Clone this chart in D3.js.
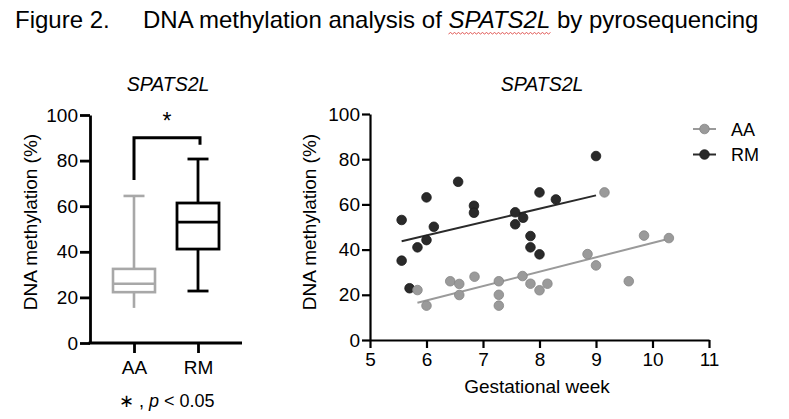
<!DOCTYPE html>
<html><head><meta charset="utf-8">
<script src="https://cdn.jsdelivr.net/npm/d3@7"></script>
<style>
html,body{margin:0;padding:0;background:#fff;}
svg{display:block;font-family:"Liberation Sans",Arial,sans-serif;}
</style></head>
<body>
<svg id="c" width="789" height="419"></svg>
<script>
// ---- data ----
const boxGroups = ["AA", "RM"];
const boxMin    = [15.4, 22.8];
const boxQ1     = [22.3, 41.2];
const boxMedian = [26.0, 53.0];
const boxQ3     = [32.5, 61.4];
const boxMax    = [64.5, 80.7];
const yTicks = [0, 20, 40, 60, 80, 100];
const xTicks = [5, 6, 7, 8, 9, 10, 11];

const aaWeek = [5.84, 6.0, 6.42, 6.58, 6.58, 6.85, 7.28, 7.28, 7.28, 7.70, 7.84, 8.0, 8.14, 8.85, 9.0, 9.15, 9.58, 9.85, 10.29];
const aaMeth = [22.1, 15.2, 26.0, 24.8, 19.9, 28.0, 26.0, 20.0, 15.2, 28.3, 24.9, 22.0, 24.9, 38.0, 33.0, 65.3, 26.0, 46.2, 45.1];
const rmWeek = [5.56, 6.0, 6.56, 6.84, 6.84, 6.13, 6.0, 5.84, 5.56, 5.70, 9.0, 8.0, 8.29, 7.57, 7.71, 7.57, 7.84, 7.84, 8.0];
const rmMeth = [53.1, 63.1, 70.0, 59.4, 56.3, 50.1, 44.2, 41.0, 35.1, 22.9, 81.4, 65.3, 62.2, 56.5, 54.1, 51.2, 46.0, 41.0, 37.9];
const fitAAWeek = [5.84, 10.29];
const fitAAMeth = [16.5, 44.8];
const fitRMWeek = [5.56, 9.0];
const fitRMMeth = [43.7, 64.0];

const seriesNames = ["AA", "RM"];
const colGrayBox = "#a8a8a8";
const colGray = "#9a9a9a";
const colGrayStroke = "#858585";
const colDark = "#2a2a2a";

const svg = d3.select("#c");

// ---- title ----
const title = svg.append("text").attr("x", 15).attr("y", 28)
  .attr("font-size", 24).attr("fill", "#000");
title.append("tspan").text("Figure 2.");
title.append("tspan").attr("x", 143).text("DNA methylation analysis of ");
const italicSpan = title.append("tspan").attr("font-style", "italic").text("SPATS2L");
title.append("tspan").text(" by pyrosequencing");

// wavy red underline under SPATS2L
(function(){
  const node = italicSpan.node();
  const start = node.getStartPositionOfChar(0).x;
  const end = node.getEndPositionOfChar(6).x;
  let d = `M${start},34`;
  for (let x = start, i = 0; x < end; x += 2, i++) {
    d += ` L${x + 2},${i % 2 === 0 ? 32.5 : 34}`;
  }
  svg.append("path").attr("d", d).attr("fill", "none").attr("stroke", "#d9302c").attr("stroke-width", 0.8);
})();

// ---- box plot ----
const yB = d3.scaleLinear().domain([0, 100]).range([343, 115]);
const xB = d3.scalePoint().domain(boxGroups).range([134, 198]);

svg.append("text").attr("x", 168).attr("y", 91).attr("text-anchor", "middle")
  .attr("font-size", 19.5).attr("font-style", "italic").text("SPATS2L");

const gyB = svg.append("g").attr("transform", "translate(90,0)")
  .call(d3.axisLeft(yB).tickValues(yTicks).tickSize(10).tickSizeOuter(0).tickPadding(2));
gyB.select(".domain").attr("stroke-width", 2.8);
gyB.selectAll(".tick line").attr("stroke-width", 2.8);
gyB.selectAll(".tick text").attr("font-size", 19).attr("font-family", "Liberation Sans, Arial").attr("fill", "#000");

const gxB = svg.append("g").attr("transform", "translate(0,343)")
  .call(d3.axisBottom(xB).tickSize(10).tickSizeOuter(0).tickPadding(8));
gxB.select(".domain").remove();
gxB.selectAll(".tick line").attr("stroke-width", 2.8);
gxB.selectAll(".tick text").attr("font-size", 19).attr("font-family", "Liberation Sans, Arial").attr("fill", "#000");
svg.append("line").attr("x1", 88.6).attr("x2", 242).attr("y1", 343).attr("y2", 343)
  .attr("stroke", "#000").attr("stroke-width", 2.8);

svg.append("text").attr("transform", "translate(37,222) rotate(-90)")
  .attr("text-anchor", "middle").attr("font-size", 19).text("DNA methylation (%)");

const boxHalf = 21, capHalf = 10.5;
boxGroups.forEach((g, i) => {
  const cx = xB(g);
  const col = i === 0 ? colGrayBox : "#000";
  const sw = i === 0 ? 2.6 : 2.8;
  const gg = svg.append("g").attr("stroke", col).attr("stroke-width", sw).attr("fill", "none");
  gg.append("line").attr("x1", cx).attr("x2", cx).attr("y1", yB(boxMax[i])).attr("y2", yB(boxQ3[i]));
  gg.append("line").attr("x1", cx).attr("x2", cx).attr("y1", yB(boxQ1[i])).attr("y2", yB(boxMin[i]));
  gg.append("line").attr("x1", cx - capHalf).attr("x2", cx + capHalf).attr("y1", yB(boxMax[i])).attr("y2", yB(boxMax[i]));
  if (i === 1) {
    gg.append("line").attr("x1", cx - capHalf).attr("x2", cx + capHalf).attr("y1", yB(boxMin[i])).attr("y2", yB(boxMin[i]));
  }
  gg.append("rect").attr("x", cx - boxHalf).attr("width", boxHalf * 2)
    .attr("y", yB(boxQ3[i])).attr("height", yB(boxQ1[i]) - yB(boxQ3[i]));
  gg.append("line").attr("x1", cx - boxHalf).attr("x2", cx + boxHalf).attr("y1", yB(boxMedian[i])).attr("y2", yB(boxMedian[i]));
});

// significance bracket
const bracketLow = [71.5, 87], bracketTop = 90;
svg.append("path")
  .attr("d", `M${xB("AA")},${yB(bracketLow[0])} V${yB(bracketTop)} H${xB("RM") + 2} V${yB(bracketLow[1])}`)
  .attr("fill", "none").attr("stroke", "#000").attr("stroke-width", 3);
svg.append("text").attr("x", 167).attr("y", 129).attr("text-anchor", "middle")
  .attr("font-size", 23).text("*");

const note = svg.append("text").attr("x", 119).attr("y", 407).attr("font-size", 18);
note.append("tspan").text("\u2217 , ");
note.append("tspan").attr("font-style", "italic").text("p");
note.append("tspan").text(" < 0.05");

// ---- scatter ----
const xS = d3.scaleLinear().domain([5, 11]).range([370, 709]);
const yS = d3.scaleLinear().domain([0, 100]).range([340, 114]);

svg.append("text").attr("x", 542).attr("y", 91).attr("text-anchor", "middle")
  .attr("font-size", 19.5).attr("font-style", "italic").text("SPATS2L");

const gyS = svg.append("g").attr("transform", "translate(370,0)")
  .call(d3.axisLeft(yS).tickValues(yTicks).tickSize(8).tickSizeOuter(0).tickPadding(2));
gyS.select(".domain").attr("stroke-width", 2.2);
gyS.selectAll(".tick line").attr("stroke-width", 2.2);
gyS.selectAll(".tick text").attr("font-size", 19).attr("font-family", "Liberation Sans, Arial").attr("fill", "#000");

const gxS = svg.append("g").attr("transform", "translate(0,340)")
  .call(d3.axisBottom(xS).tickValues(xTicks).tickFormat(d3.format("d")).tickSize(8).tickSizeOuter(0).tickPadding(5));
gxS.select(".domain").attr("stroke-width", 2.2);
gxS.selectAll(".tick line").attr("stroke-width", 2.2);
gxS.selectAll(".tick text").attr("font-size", 19).attr("font-family", "Liberation Sans, Arial").attr("fill", "#000");

svg.append("text").attr("transform", "translate(316,222) rotate(-90)")
  .attr("text-anchor", "middle").attr("font-size", 19).text("DNA methylation (%)");
svg.append("text").attr("x", 537).attr("y", 393).attr("text-anchor", "middle")
  .attr("font-size", 19).text("Gestational week");

// fit lines
const lineGen = d3.line().x(d => xS(d[0])).y(d => yS(d[1]));
svg.append("path").datum(d3.zip(fitRMWeek, fitRMMeth)).attr("d", lineGen)
  .attr("stroke", colDark).attr("stroke-width", 2).attr("fill", "none");
svg.append("path").datum(d3.zip(fitAAWeek, fitAAMeth)).attr("d", lineGen)
  .attr("stroke", colGray).attr("stroke-width", 2).attr("fill", "none");

const r = 4.8;
svg.append("g").selectAll("circle").data(d3.zip(rmWeek, rmMeth)).join("circle")
  .attr("cx", d => xS(d[0])).attr("cy", d => yS(d[1])).attr("r", r)
  .attr("fill", colDark).attr("stroke", "#1a1a1a").attr("stroke-width", 0.8);
svg.append("g").selectAll("circle").data(d3.zip(aaWeek, aaMeth)).join("circle")
  .attr("cx", d => xS(d[0])).attr("cy", d => yS(d[1])).attr("r", r)
  .attr("fill", colGray).attr("stroke", colGrayStroke).attr("stroke-width", 0.8);

// legend
const legY = [129, 154.5];
seriesNames.forEach((s, i) => {
  const fill = i === 0 ? colGray : colDark;
  const stroke = i === 0 ? colGrayStroke : "#1a1a1a";
  svg.append("line").attr("x1", 693).attr("x2", 716).attr("y1", legY[i]).attr("y2", legY[i])
    .attr("stroke", i === 0 ? colGray : colDark).attr("stroke-width", 2);
  svg.append("circle").attr("cx", 704.5).attr("cy", legY[i]).attr("r", r)
    .attr("fill", fill).attr("stroke", stroke).attr("stroke-width", 0.8);
  svg.append("text").attr("x", 731).attr("y", legY[i] + 6.5).attr("font-size", 18).text(s);
});
</script>
</body></html>
